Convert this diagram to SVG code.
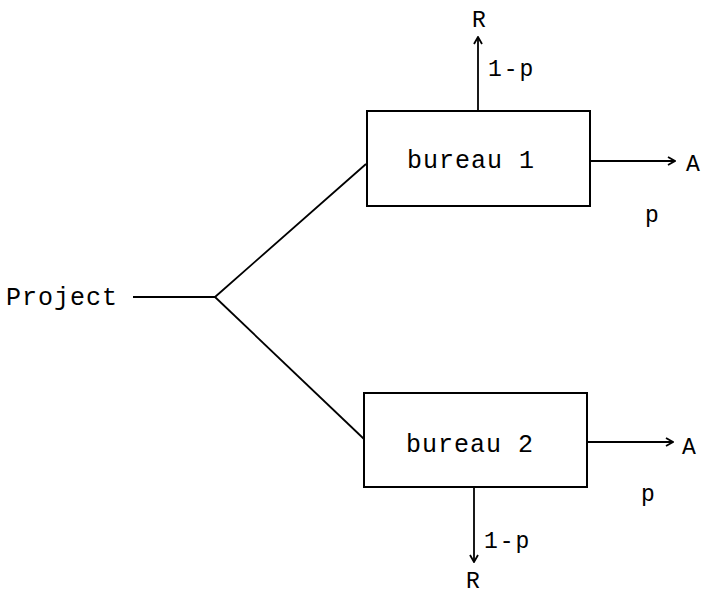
<svg xmlns="http://www.w3.org/2000/svg" width="707" height="594" viewBox="0 0 707 594">
<style>
text{font-family:"Liberation Mono","Courier New",monospace;fill:#000;font-size:25px;letter-spacing:1px}
.lbl{font-size:23px;letter-spacing:2px}
.box{fill:#fff;stroke:#000;stroke-width:2}
.ln{fill:none;stroke:#000;stroke-width:1.8}
</style>
<defs>
<marker id="ah" viewBox="0 0 12 12" refX="11" refY="6" markerWidth="12" markerHeight="12" markerUnits="userSpaceOnUse" orient="auto">
<path d="M4,2 L11,6 L4,10" fill="none" stroke="#000" stroke-width="1.8"/>
</marker>
</defs>
<g id="connectors">
<path class="ln" d="M133,297 H215 L366,164"/>
<path class="ln" d="M215,297 L364,439"/>
<path class="ln" d="M478,111 V37" marker-end="url(#ah)"/>
<path class="ln" d="M590,161 H675" marker-end="url(#ah)"/>
<path class="ln" d="M587,442 H673" marker-end="url(#ah)"/>
<path class="ln" d="M474,488 V562" marker-end="url(#ah)"/>
</g>
<g id="project"><text x="6" y="305">Project</text></g>
<g id="bureau1">
<rect class="box" x="367" y="111" width="223" height="95"/>
<text x="407" y="168">bureau 1</text>
</g>
<g id="bureau2">
<rect class="box" x="364" y="393" width="223" height="94"/>
<text x="406" y="452">bureau 2</text>
</g>
<g id="labels">
<text class="lbl" x="472" y="27">R</text>
<text class="lbl" x="488" y="76">1-p</text>
<text class="lbl" x="686" y="171">A</text>
<text class="lbl" x="645" y="222">p</text>
<text class="lbl" x="682" y="454">A</text>
<text class="lbl" x="641" y="501">p</text>
<text class="lbl" x="484" y="548">1-p</text>
<text class="lbl" x="466" y="588">R</text>
</g>
</svg>
